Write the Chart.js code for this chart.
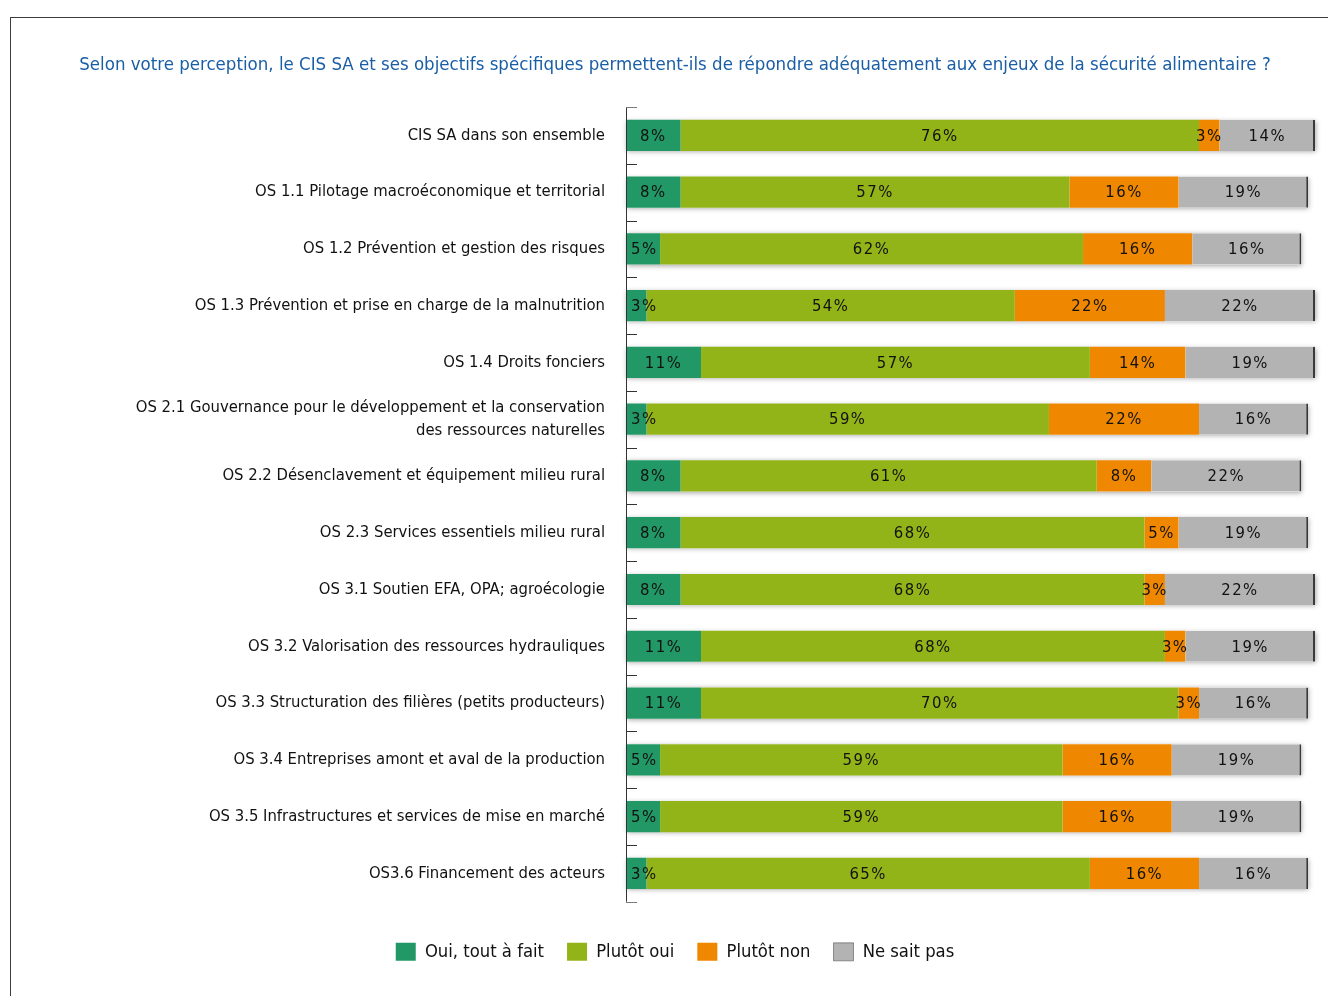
<!DOCTYPE html>
<html lang="fr">
<head>
<meta charset="utf-8">
<title>CIS SA – perception</title>
<script src="https://cdn.jsdelivr.net/npm/chart.js@4.4.1/dist/chart.umd.min.js"></script>
<style>
  html, body { margin: 0; padding: 0; background: #fff; }
  #wrap { position: relative; width: 1328px; height: 996px; }
  #frame { position: absolute; left: 10px; top: 17px; right: 0; bottom: 0;
           border-top: 1px solid #3c3c3c; border-left: 1px solid #3c3c3c; pointer-events: none; }
  canvas { position: absolute; left: 0; top: 0; }
</style>
</head>
<body>
<div id="wrap">
  <canvas id="chart" width="1328" height="996"></canvas>
  <div id="frame"></div>
</div>
<script>
const FONT = '"Liberation Sans Narrow", "DejaVu Sans Condensed", "Roboto Condensed", sans-serif';

const titleText = 'Selon votre perception, le CIS SA et ses objectifs spécifiques permettent-ils de répondre adéquatement aux enjeux de la sécurité alimentaire ?';

const categories = [
  'CIS SA dans son ensemble',
  'OS 1.1 Pilotage macroéconomique et territorial',
  'OS 1.2 Prévention et gestion des risques',
  'OS 1.3 Prévention et prise en charge de la malnutrition',
  'OS 1.4 Droits fonciers',
  ['OS 2.1 Gouvernance pour le développement et la conservation', 'des ressources naturelles'],
  'OS 2.2 Désenclavement et équipement milieu rural',
  'OS 2.3 Services essentiels milieu rural',
  'OS 3.1 Soutien EFA, OPA; agroécologie',
  'OS 3.2 Valorisation des ressources hydrauliques',
  'OS 3.3 Structuration des filières (petits producteurs)',
  'OS 3.4 Entreprises amont et aval de la production',
  'OS 3.5 Infrastructures et services de mise en marché',
  'OS3.6 Financement des acteurs'
];

const seriesNames = ['Oui, tout à fait', 'Plutôt oui', 'Plutôt non', 'Ne sait pas'];

const ouiToutAFait = [8, 8, 5, 3, 11, 3, 8, 8, 8, 11, 11, 5, 5, 3];
const plutotOui    = [76, 57, 62, 54, 57, 59, 61, 68, 68, 68, 70, 59, 59, 65];
const plutotNon    = [3, 16, 16, 22, 14, 22, 8, 5, 3, 3, 3, 16, 16, 16];
const neSaitPas    = [14, 19, 16, 22, 19, 16, 22, 19, 22, 19, 16, 19, 19, 16];

const seriesColors = ['#219865', '#93b418', '#ef8800', '#b3b3b3'];

// Soft drop shadow behind each full stacked row
const rowShadow = {
  id: 'rowShadow',
  beforeDatasetsDraw(chart) {
    const { ctx } = chart;
    const metas = chart.data.datasets.map((d, i) => chart.getDatasetMeta(i));
    const first = metas[0].data, last = metas[metas.length - 1].data;
    ctx.save();
    ctx.shadowColor = 'rgba(0,0,0,0.35)';
    ctx.shadowBlur = 5;
    ctx.shadowOffsetX = 1;
    ctx.shadowOffsetY = 1;
    ctx.fillStyle = '#ffffff';
    first.forEach((bar, i) => {
      const end = last[i];
      const h = bar.height;
      ctx.fillRect(bar.base, bar.y - h / 2, end.x - bar.base, h);
    });
    ctx.restore();
  }
};

// Percentage labels centred in each segment
const segmentLabels = {
  id: 'segmentLabels',
  afterDatasetsDraw(chart) {
    const { ctx, chartArea } = chart;
    ctx.save();
    ctx.font = '16.5px ' + FONT;
    ctx.fillStyle = '#111111';
    ctx.textBaseline = 'middle';
    ctx.textAlign = 'left';
    if ('letterSpacing' in ctx) ctx.letterSpacing = '1.5px';
    chart.data.datasets.forEach((ds, di) => {
      chart.getDatasetMeta(di).data.forEach((bar, i) => {
        const txt = ds.data[i] + '%';
        const w = ctx.measureText(txt).width;
        let left = (bar.x + bar.base) / 2 - w / 2;
        if (left < chartArea.left + 5) left = chartArea.left + 5;
        ctx.fillText(txt, left, bar.y + 1);
      });
    });
    ctx.restore();
  }
};

// Category axis line with inward tick marks between rows
const categoryAxis = {
  id: 'categoryAxis',
  afterDatasetsDraw(chart) {
    const { ctx, chartArea, scales } = chart;
    const y = scales.y;
    const x0 = chartArea.left;
    ctx.save();
    ctx.lineWidth = 1;
    ctx.strokeStyle = '#333333';
    ctx.beginPath();
    ctx.moveTo(x0 + 0.5, y.getPixelForValue(-0.5));
    ctx.lineTo(x0 + 0.5, y.getPixelForValue(categories.length - 0.5));
    ctx.stroke();
    for (let k = 0; k <= categories.length; k++) {
      const py = Math.round(y.getPixelForValue(k - 0.5)) + 0.5;
      ctx.strokeStyle = (k === 0 || k === categories.length) ? '#7a7a7a' : '#333333';
      ctx.beginPath();
      ctx.moveTo(x0, py);
      ctx.lineTo(x0 + 11, py);
      ctx.stroke();
    }
    ctx.restore();
  }
};

const seriesData = [ouiToutAFait, plutotOui, plutotNon, neSaitPas];

new Chart(document.getElementById('chart'), {
  type: 'bar',
  data: {
    labels: categories,
    datasets: seriesNames.map((name, i) => ({
      label: name,
      data: seriesData[i],
      backgroundColor: seriesColors[i],
      borderColor: '#3a3a3a',
      borderWidth: i === 3 ? { top: 0, left: 0, bottom: 0, right: 2 } : 0,
      borderSkipped: false,
      categoryPercentage: 0.55,
      barPercentage: 1.0
    }))
  },
  options: {
    indexAxis: 'y',
    responsive: false,
    animation: false,
    devicePixelRatio: 1,
    layout: { padding: { top: 0, left: 35, right: 13, bottom: 25 } },
    scales: {
      x: {
        stacked: true,
        display: false,
        min: 0,
        max: 101
      },
      y: {
        stacked: true,
        grid: { display: false, drawTicks: false },
        border: { display: false },
        ticks: {
          padding: 21,
          color: '#111111',
          font: { family: FONT, size: 16.5, lineHeight: 1.4 }
        },
        afterFit(scale) { scale.width = 591; }
      }
    },
    plugins: {
      title: {
        display: true,
        text: titleText,
        color: '#1a5ea6',
        font: { family: FONT, size: 18.5, weight: 'normal', lineHeight: 1.2 },
        padding: { top: 54, bottom: 30.8 }
      },
      legend: {
        position: 'bottom',
        title: {
          display: true,
          text: ' ',
          font: { family: FONT, size: 18, lineHeight: 1 },
          padding: 0
        },
        labels: {
          color: '#111111',
          font: { family: FONT, size: 18.3 },
          boxWidth: 20,
          boxHeight: 18,
          padding: 23
        }
      },
      tooltip: { enabled: false }
    }
  },
  plugins: [rowShadow, segmentLabels, categoryAxis]
});
</script>
</body>
</html>
